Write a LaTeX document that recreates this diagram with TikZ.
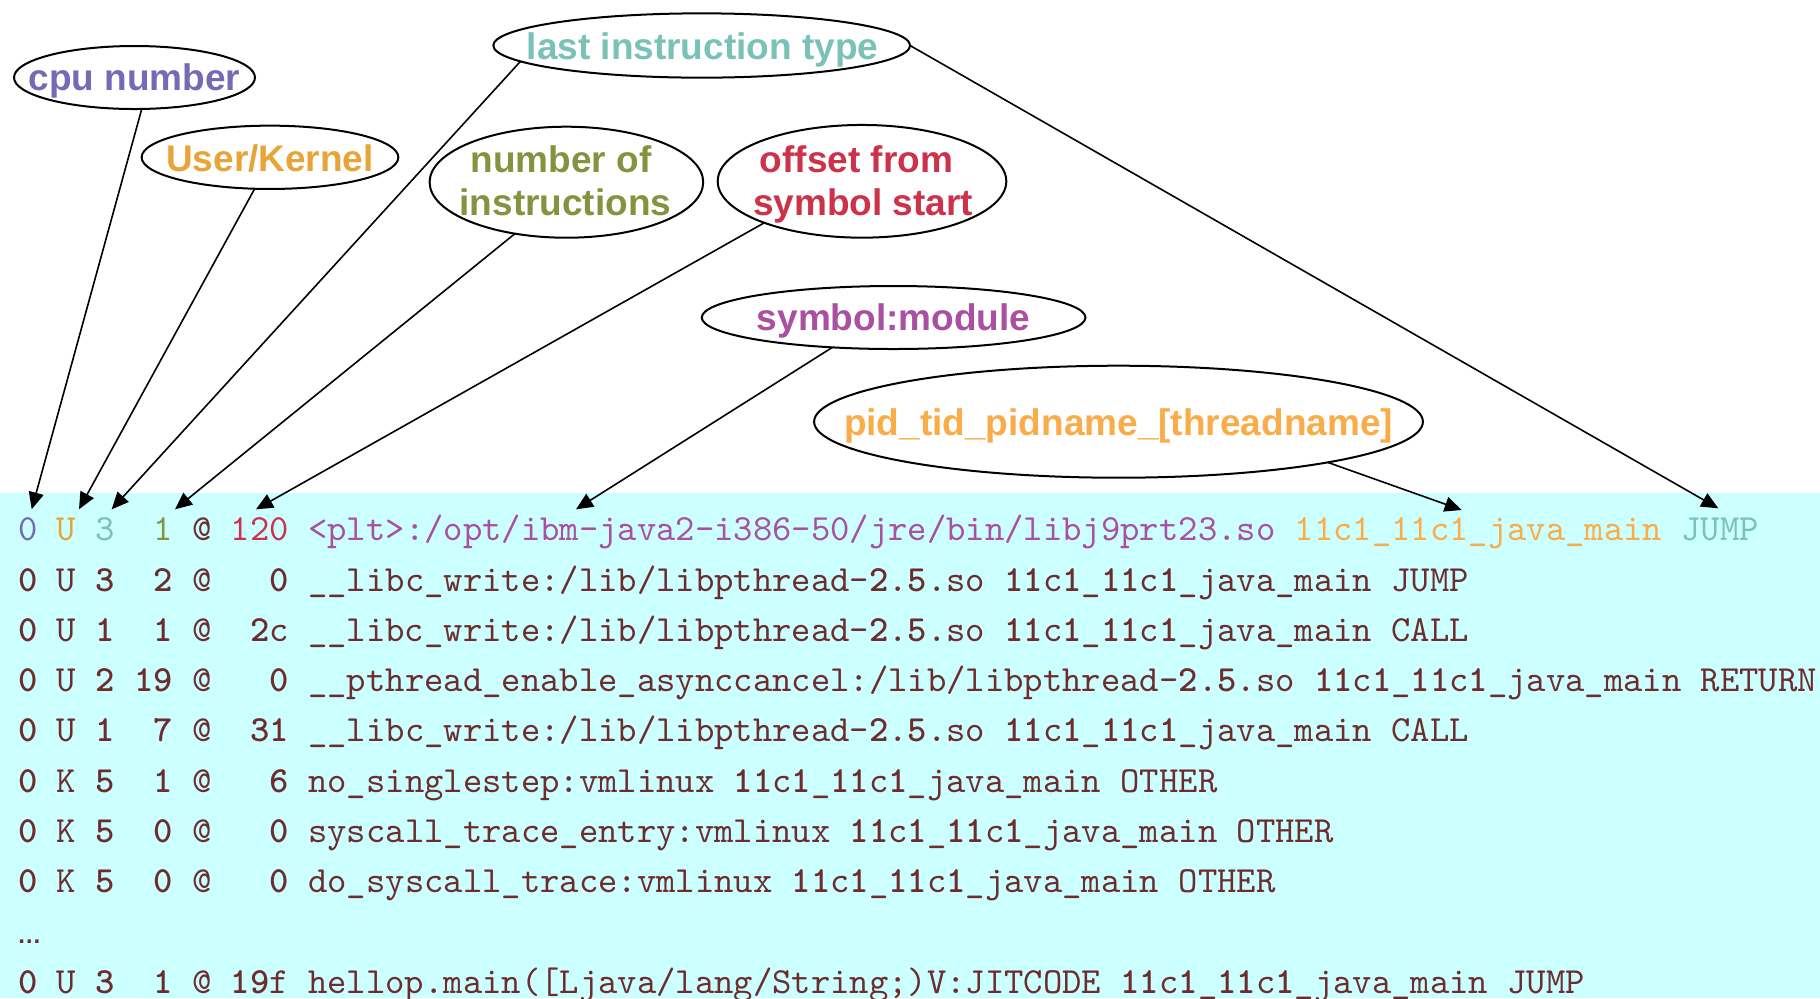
\documentclass[tikz,border=0pt]{standalone}
\usepackage{fontspec}
\usetikzlibrary{shapes.geometric,arrows.meta}

\newfontfamily\lblfont{Liberation Sans}
\newfontfamily\trcfont{lmmono10-regular.otf}
\newfontfamily\trcbold{lmmonolt10-bold.otf}

\definecolor{cpuC}{RGB}{118,106,180}
\definecolor{ukC}{RGB}{232,165,55}
\definecolor{litC}{RGB}{122,193,184}
\definecolor{noiC}{RGB}{135,146,64}
\definecolor{offC}{RGB}{204,50,74}
\definecolor{symC}{RGB}{170,80,160}
\definecolor{pidC}{RGB}{250,172,72}
\definecolor{rowC}{RGB}{110,45,45}
\definecolor{bgC}{RGB}{204,255,255}

% digits of the trace lines are set in the bold mono face
\newcommand\bd[1]{{\trcbold#1}}
\newcommand\pidstr{\bd{11}c\bd{1}\_\bd{11}c\bd{1}\_java\_main}

\tikzset{
  oval/.style={ellipse, draw=black, line width=1pt, inner sep=0pt, outer sep=0pt},
  lbl/.style={anchor=base, inner sep=0pt, outer sep=0pt,
    font=\lblfont\bfseries\fontsize{18.5}{22}\selectfont},
  trc/.style={anchor=base west, inner sep=0pt, outer sep=0pt, text=rowC,
    font=\trcfont\fontsize{18.42}{22}\selectfont},
  conn/.style={line width=0.8pt, draw=black,
    -{Triangle[length=8.5pt,width=7.5pt]}}
}

\begin{document}
\begin{tikzpicture}[x=0.5pt,y=-0.5pt]
\useasboundingbox (0,0) rectangle (1820,998);
\fill[white] (0,0) rectangle (1820,998);
\fill[bgC] (0,493.3) rectangle (1820,998);

% field labels
\node[oval, minimum width=120.5pt, minimum height=31.5pt] (e1) at (134.5,77.5) {};
\node[lbl, text=cpuC] (l1) at (134.5,90) {cpu number};

\node[oval, minimum width=128.35pt, minimum height=31.65pt] (e2) at (270,157.3) {};
\node[lbl, text=ukC] (l2) at (270,171.7) {User/Kernel};

\node[oval, minimum width=208.35pt, minimum height=32.15pt] (e3) at (701.7,45.5) {};
\node[lbl, text=litC] (l3) at (702.5,59.3) {last instruction type};

\node[oval, minimum width=136.8pt, minimum height=55.5pt] (e4) at (566.4,182.2) {};
\node[lbl, text=noiC] (l4a) at (561,172.3) {number of};
\node[lbl, text=noiC] (l4b) at (565.5,215) {instructions};

\node[oval, minimum width=144.3pt, minimum height=56.35pt] (e5) at (862,181.3) {};
\node[lbl, text=offC] (l5a) at (856.5,172.3) {offset from};
\node[lbl, text=offC] (l5b) at (863,215) {symbol start};

\node[oval, minimum width=191.85pt, minimum height=31.5pt] (e6) at (893.6,317.5) {};
\node[lbl, text=symC] (l6) at (893.6,330) {symbol:module};

\node[oval, minimum width=304.4pt, minimum height=56pt] (e7) at (1118.5,421.7) {};
\node[lbl, text=pidC] (l7) at (1118.5,435) {pid\_tid\_pidname\_[threadname]};

% trace lines
\node[trc] (r1) at (18.2,540.7) {{\color{cpuC}0} {\color{ukC}U} {\color{litC}3}~~{\color{noiC}1} @ {\color{offC}120} {\color{symC}<plt>:/opt/ibm-java2-i386-50/jre/bin/libj9prt23.so} {\color{pidC}11c1\_11c1\_java\_main} {\color{litC}JUMP}};
\node[trc] (r2) at (18.2,591.0) {\bd{0} U \bd{3}~~\bd{2} @~~~\bd{0} \_\_libc\_write:/lib/libpthread-\bd{2}.\bd{5}.so \pidstr{} JUMP};
\node[trc] (r3) at (18.2,641.3) {\bd{0} U \bd{1}~~\bd{1} @~~\bd{2}c \_\_libc\_write:/lib/libpthread-\bd{2}.\bd{5}.so \pidstr{} CALL};
\node[trc] (r4) at (18.2,691.6) {\bd{0} U \bd{2} \bd{19} @~~~\bd{0} \_\_pthread\_enable\_asynccancel:/lib/libpthread-\bd{2}.\bd{5}.so \pidstr{} RETURN};
\node[trc] (r5) at (18.2,741.9) {\bd{0} U \bd{1}~~\bd{7} @~~\bd{31} \_\_libc\_write:/lib/libpthread-\bd{2}.\bd{5}.so \pidstr{} CALL};
\node[trc] (r6) at (18.2,792.2) {\bd{0} K \bd{5}~~\bd{1} @~~~\bd{6} no\_singlestep:vmlinux \pidstr{} OTHER};
\node[trc] (r7) at (18.2,842.5) {\bd{0} K \bd{5}~~\bd{0} @~~~\bd{0} syscall\_trace\_entry:vmlinux \pidstr{} OTHER};
\node[trc] (r8) at (18.2,892.8) {\bd{0} K \bd{5}~~\bd{0} @~~~\bd{0} do\_syscall\_trace:vmlinux \pidstr{} OTHER};
\node[anchor=base west, inner sep=0pt, text=rowC, font=\lblfont\bfseries\fontsize{12}{14}\selectfont] (r9) at (17,943.1) {\symbol{"2026}};
\node[trc] (r10) at (18.2,993.4) {\bd{0} U \bd{3}~~\bd{1} @ \bd{19}f hellop.main([Ljava/lang/String;)V:JITCODE \pidstr{} JUMP};

% arrow targets just above the first trace line
\coordinate (t1) at (31.7,509.3);
\coordinate (t2) at (79,509.3);
\coordinate (t3) at (111.7,509.3);
\coordinate (t4) at (175,509.3);
\coordinate (t5) at (256,509.3);
\coordinate (t6) at (576,509.3);
\coordinate (t7) at (1461.7,510);
\coordinate (t8) at (1718.3,508.3);

\draw[conn] (e1.-77.5) -- (t1);
\draw[conn] (e2.-116) -- (t2);
\draw[conn] (e3.-175) -- (t3);
\draw[conn] (e4.-135) -- (t4);
\draw[conn] (e5.-157) -- (t5);
\draw[conn] (e6.-154) -- (t6);
\draw[conn] (e7.-11) -- (t7);
\draw[conn] (e3.east) -- (t8);
\end{tikzpicture}
\end{document}
